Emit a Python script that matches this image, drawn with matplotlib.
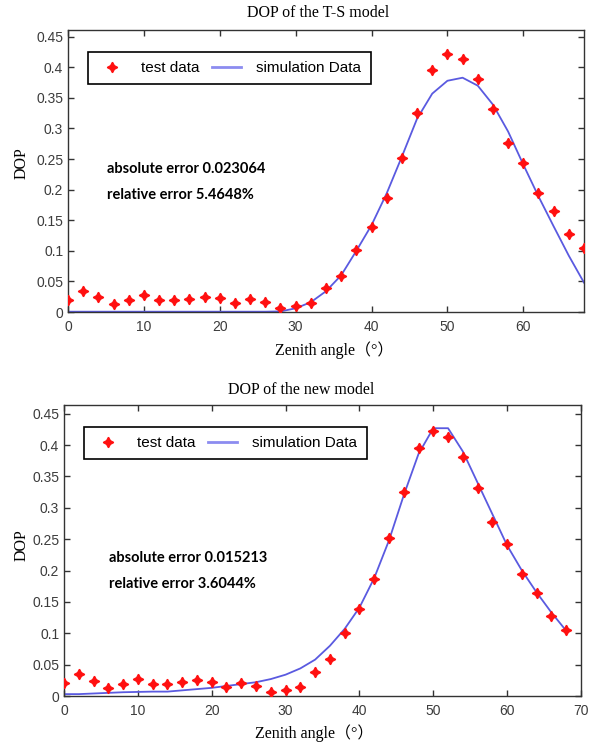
# DOP comparison: T-S model vs new model
import matplotlib
matplotlib.use('Agg')
import matplotlib.pyplot as plt
from matplotlib.lines import Line2D

# measured zenith angles (deg)
angle = [0, 2, 4, 6, 8, 10, 12, 14, 16, 18, 20, 22, 24, 26, 28, 30, 32, 34,
         36, 38, 40, 42, 44, 46, 48, 50, 52, 54, 56, 58, 60, 62, 64, 66, 68]

# test data (same in both panels)
test_dop = [0.020, 0.035, 0.024, 0.013, 0.019, 0.027, 0.019, 0.019, 0.022,
            0.025, 0.023, 0.014, 0.021, 0.016, 0.006, 0.010, 0.014, 0.039,
            0.059, 0.101, 0.139, 0.186, 0.252, 0.326, 0.395, 0.422, 0.413,
            0.381, 0.332, 0.277, 0.243, 0.194, 0.165, 0.128, 0.105]

# simulation, T-S model
ts_sim = [0.0005, 0.0005, 0.0005, 0.0005, 0.0005, 0.0005, 0.0005, 0.0005,
          0.0005, 0.0005, 0.0005, 0.0005, 0.0005, 0.0005, 0.001, 0.006,
          0.016, 0.034, 0.060, 0.100, 0.142, 0.194, 0.254, 0.316, 0.357,
          0.378, 0.383, 0.370, 0.339, 0.295, 0.241, 0.189, 0.140, 0.092, 0.048]

# simulation, new model
new_sim = [0.003, 0.003, 0.004, 0.005, 0.006, 0.0065, 0.007, 0.007, 0.009,
           0.011, 0.013, 0.016, 0.019, 0.022, 0.027, 0.034, 0.044, 0.058,
           0.080, 0.107, 0.141, 0.188, 0.248, 0.320, 0.386, 0.427, 0.427,
           0.390, 0.340, 0.290, 0.240, 0.200, 0.165, 0.133, 0.104]

titles = ['DOP of the T-S model', 'DOP of the new model']
errors = [('absolute error 0.023064', 'relative error 5.4648%'),
          ('absolute error 0.015213', 'relative error 3.6044%')]
y_ticks = [0, 0.05, 0.1, 0.15, 0.2, 0.25, 0.3, 0.35, 0.4, 0.45]
y_tick_labels = ['0', '0.05', '0.1', '0.15', '0.2', '0.25', '0.3', '0.35', '0.4', '0.45']

tick_font = ['Liberation Sans', 'DejaVu Sans']
serif_font = ['Liberation Serif', 'Noto Sans CJK SC', 'DejaVu Sans']

W, H = 589, 746
fig = plt.figure(figsize=(W / 100, H / 100), dpi=100)

# pixel boxes: left, top, right, bottom
boxes = [(68, 30, 584, 312), (64, 405, 581, 696)]
xlims = [(0, 68), (0, 70)]
ylims = [(0, 0.461), (0, 0.464)]
xticks = [list(range(0, 61, 10)), list(range(0, 71, 10))]
sims = [ts_sim, new_sim]
title_pos = [(318, 13), (301, 390)]
xlabel_pos = [(334, 350), (314, 733)]
ylabel_pos = [(22, 163), (22, 545)]
text_pos = [(5.2, 0.234, 0.192), (6.05, 0.220, 0.179)]
legend_pos = [(88, 52), (84, 427)]

for i in range(2):
    l, t, r, b = boxes[i]
    ax = fig.add_axes([l / W, 1 - b / H, (r - l) / W, (b - t) / H])
    ax.plot(angle, sims[i], color='#5a5ae0', lw=1.3, zorder=2)
    ax.plot(angle, test_dop, ls='none', marker=(4, 1, 0), markersize=7.5,
            color='#ff1010', zorder=3)

    ax.set_xlim(*xlims[i])
    ax.set_ylim(*ylims[i])
    ax.set_xticks(xticks[i])
    ax.set_yticks(y_ticks)
    ax.set_yticklabels(y_tick_labels)
    ax.tick_params(direction='in', top=True, right=True, length=4,
                   width=1, color='#333333', labelcolor='#3c3c3c', labelsize=10)
    ax.tick_params(axis='x', pad=5.5)
    ax.tick_params(axis='y', pad=3.5)
    for lab in ax.get_xticklabels() + ax.get_yticklabels():
        lab.set_family(tick_font)
    for s in ax.spines.values():
        s.set_color('#333333')
        s.set_linewidth(1)

    fig.text(title_pos[i][0] / W, 1 - title_pos[i][1] / H, titles[i],
             ha='center', va='center', fontsize=11.5, family=serif_font)
    fig.text(xlabel_pos[i][0] / W, 1 - xlabel_pos[i][1] / H, 'Zenith angle（°）',
             ha='center', va='center', fontsize=11.5, family=serif_font)
    fig.text(ylabel_pos[i][0] / W, 1 - ylabel_pos[i][1] / H, 'DOP',
             ha='center', va='center', fontsize=11.5, rotation=90,
             family=serif_font)

    tx, ty1, ty2 = text_pos[i]
    ax.text(tx, ty1, errors[i][0], fontsize=10.5, fontweight='bold',
            family=['Lato', 'DejaVu Sans'], va='center', ha='left')
    ax.text(tx, ty2, errors[i][1], fontsize=10.5, fontweight='bold',
            family=['Lato', 'DejaVu Sans'], va='center', ha='left')

    handles = [Line2D([], [], ls='none', marker=(4, 1, 0), markersize=7.5,
                      color='#ff1010'),
               Line2D([], [], color='#8c8cf0', lw=2)]
    lx, ly = legend_pos[i]
    leg = ax.legend(handles, ['test data', 'simulation Data'], ncol=2,
                    loc='upper left',
                    bbox_to_anchor=((lx - l) / (r - l), (b - ly) / (b - t)),
                    borderaxespad=0, fancybox=False, framealpha=1,
                    edgecolor='black', handlelength=1.9, handletextpad=1.0,
                    columnspacing=0.8, borderpad=0.6,
                    prop={'family': tick_font, 'size': 11})
    leg.get_frame().set_linewidth(1.2)

fig.savefig('out.png', dpi=100)
